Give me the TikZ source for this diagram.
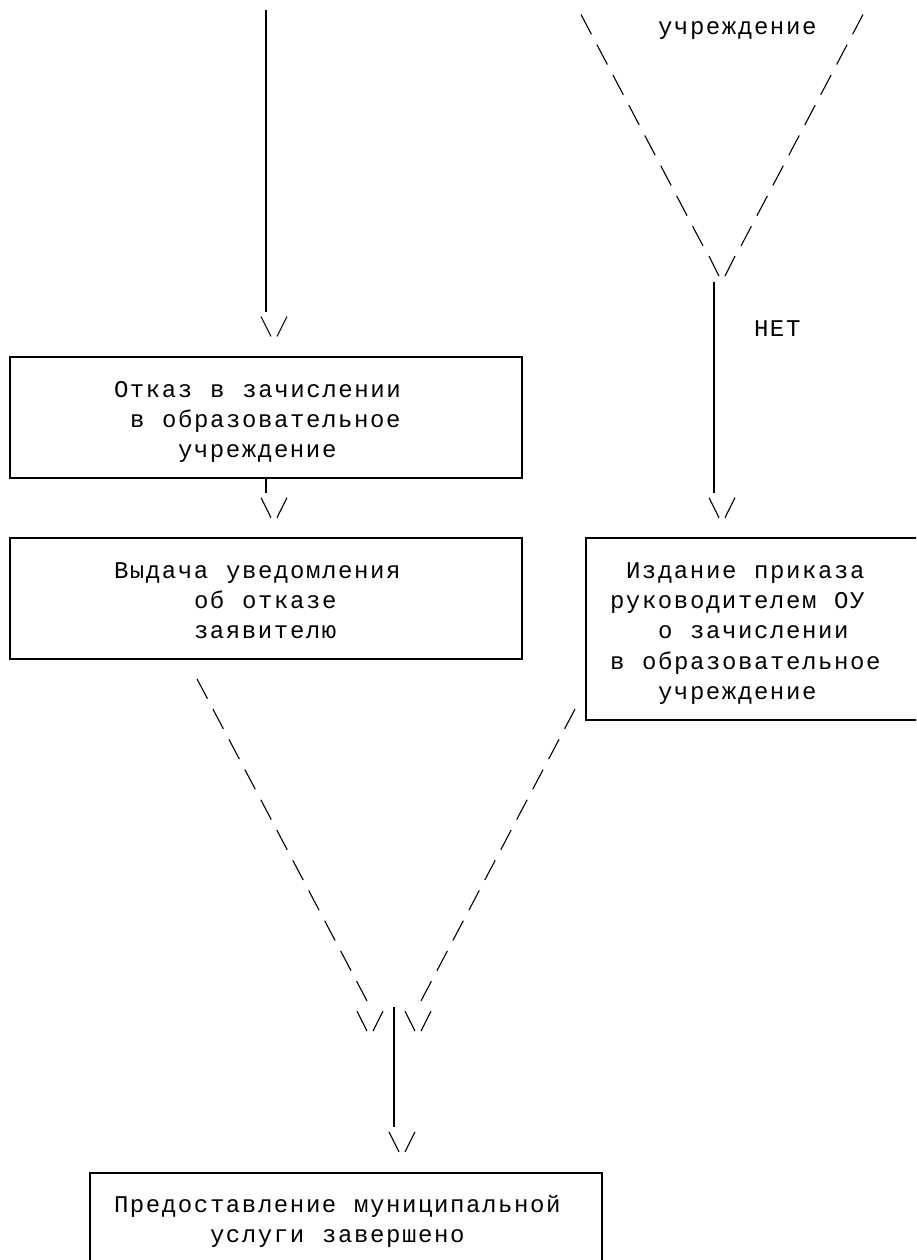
\documentclass[tikz,border=0pt]{standalone}
\usepackage{fontspec}
\newfontfamily\monoru[LetterSpace=6.667,WordSpace=1.1111]{Liberation Mono}
\begin{document}
\begin{tikzpicture}[x=16pt,y=-30.2pt,
  boxnode/.style={draw=black,line width=2pt,rectangle,inner sep=0pt,outer sep=0pt},
  vline/.style={draw=black,line width=2pt},
  diagline/.style={draw=black,line width=1.1pt,dash pattern=on 22.35pt off 11.83pt},
  tipline/.style={draw=black,line width=1.1pt},
  tipcell/.style={rectangle,minimum width=32pt,minimum height=30.2pt,inner sep=0pt,outer sep=0pt},
  txt/.style={font=\monoru\fontsize{24}{24}\selectfont,anchor=base west,inner sep=0pt,outer sep=0pt,xshift=-8pt,yshift=-9.9pt,text=black}]
\path[use as bounding box,fill=white] (-10pt,25pt) rectangle (906pt,-1235pt);
\clip (-10pt,25pt) rectangle (906pt,-1235pt);

% boxes
\node[boxnode,minimum width=512pt,minimum height=120.8pt] (b1) at (16,13) {};
\node[boxnode,minimum width=512pt,minimum height=120.8pt] (b2) at (16,19) {};
\node[boxnode,minimum width=336pt,minimum height=181.2pt] (b3) at (46.5,20) {};
\node[boxnode,minimum width=512pt,minimum height=120.8pt] (b4) at (21,40) {};

% texts
\node[txt] (tu0) at (41,0) {учреждение};
\node[txt] (tno) at (47,10) {НЕТ};
\node[txt] (t1a) at (7,12) {Отказ в зачислении};
\node[txt] (t1b) at (8,13) {в образовательное};
\node[txt] (t1c) at (11,14) {учреждение};
\node[txt] (t2a) at (7,18) {Выдача уведомления};
\node[txt] (t2b) at (12,19) {об отказе};
\node[txt] (t2c) at (12,20) {заявителю};
\node[txt] (t3a) at (39,18) {Издание приказа};
\node[txt] (t3b) at (38,19) {руководителем ОУ};
\node[txt] (t3c) at (41,20) {о зачислении};
\node[txt] (t3d) at (38,21) {в образовательное};
\node[txt] (t3e) at (41,22) {учреждение};
\node[txt] (t4a) at (7,39) {Предоставление муниципальной};
\node[txt] (t4b) at (13,40) {услуги завершено};

% arrow tips "\/"
\node[tipcell] (v1) at (16.5,10) {};
\node[tipcell] (v2) at (44.5,8) {};
\node[tipcell] (v3) at (44.5,16) {};
\node[tipcell] (v4) at (16.5,16) {};
\node[tipcell] (v5) at (22.5,33) {};
\node[tipcell] (v6) at (25.5,33) {};
\node[tipcell] (v7) at (24.5,37) {};
\foreach \n in {v1,v2,v3,v4,v5,v6,v7}{
  \draw[tipline] ([shift={(-13pt,10.5pt)}]\n.center) -- ([shift={(-3pt,-9.5pt)}]\n.center);
  \draw[tipline] ([shift={(13pt,10.5pt)}]\n.center) -- ([shift={(3pt,-9.5pt)}]\n.center);
}

% vertical connectors
\coordinate (s1) at (16,0);
\draw[vline] ([yshift=15.1pt]s1) -- ([xshift=-8pt]v1.north);
\draw[vline] ([xshift=-8pt]v2.south) -- ([xshift=-8pt]v3.north);
\draw[vline] (b1.south) -- ([xshift=-8pt]v4.north);
\coordinate (m1) at (24,33);
\draw[vline] ([yshift=15.1pt]m1) -- ([xshift=-8pt]v7.north);

% diagonal connectors
\coordinate (dA) at ([shift={(-5pt,10.5pt)}]36,0);
\coordinate (dB) at ([shift={(5pt,10.5pt)}]53,0);
\coordinate (dC) at ([shift={(-5pt,10.5pt)}]12,22);
\coordinate (dD) at ([shift={(5pt,10.5pt)}]35,23);
\draw[diagline] (dA) -- ([shift={(-19pt,20.7pt)}]v2.center);
\draw[diagline] (dB) -- ([shift={(19pt,20.7pt)}]v2.center);
\draw[diagline] (dC) -- ([shift={(-3pt,20.7pt)}]v5.center);
\draw[diagline] (dD) -- ([shift={(3pt,20.7pt)}]v6.center);
\end{tikzpicture}
\end{document}
